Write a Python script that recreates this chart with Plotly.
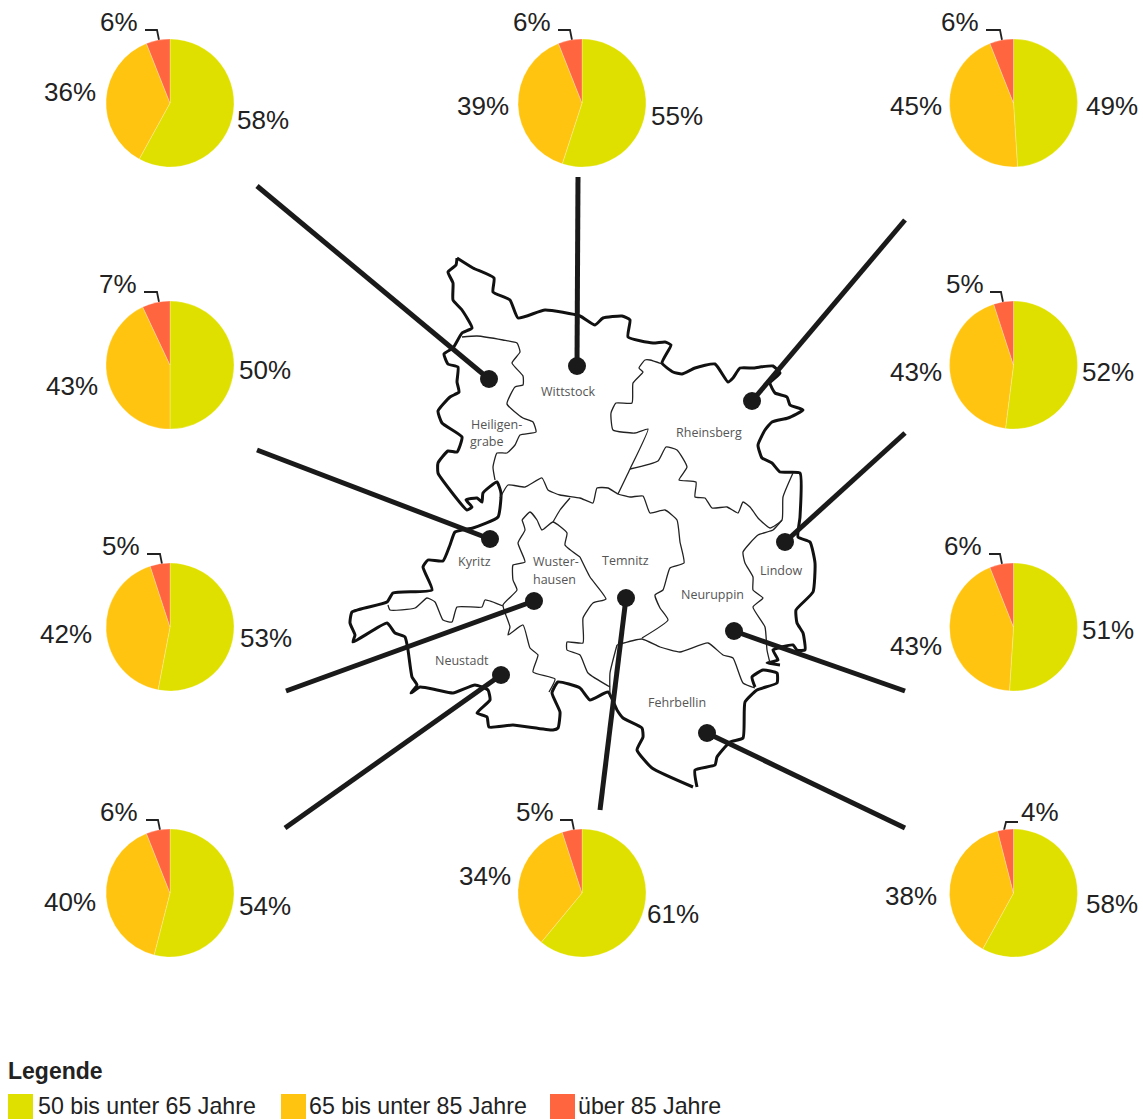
import plotly.graph_objects as go

WIDTH, HEIGHT = 1143, 1119

# Age shares per municipality
districts = ["Heiligengrabe", "Wittstock", "Rheinsberg", "Kyritz", "Lindow",
             "Wusterhausen", "Neuruppin", "Neustadt", "Temnitz", "Fehrbellin"]
share_50_65 = [58, 55, 49, 50, 52, 53, 51, 54, 61, 58]
share_65_85 = [36, 39, 45, 43, 43, 42, 43, 40, 34, 38]
share_85_up = [6, 6, 6, 7, 5, 5, 6, 6, 5, 4]
age_groups = ["50 bis unter 65 Jahre", "65 bis unter 85 Jahre", "über 85 Jahre"]
colors = ["#E0E000", "#FFC40F", "#FF6640"]

# Pie placement
pie_cx = [170, 582, 1013.5, 170, 1013.5, 170, 1013.5, 170, 582, 1013.5]
pie_cy = [103, 103, 103, 365, 365, 627, 627, 893, 893, 893]
PIE_R = 64

# Percent label centres: 50-65, 65-85, over 85
label_a = [(263, 120), (677, 116), (1112, 106), (265, 370), (1108, 372),
           (266, 638), (1108, 630), (265, 906), (673, 914), (1112, 904)]
label_b = [(70, 92), (483, 106), (916, 106), (72, 386), (916, 372),
           (66, 634), (916, 646), (70, 902), (485, 876), (911, 896)]
label_c = [(119, 22), (532, 22), (960, 22), (118, 284), (965, 284),
           (121, 546), (963, 546), (119, 812), (535, 812), (1040, 812)]
# Short leader from the small label to its slice
leaders = [[(145, 30), (157, 30), (159, 40)], [(558, 30), (570, 30), (572, 40)],
           [(986, 30), (1000, 30), (1002, 40)], [(144, 292), (157, 292), (159, 302)],
           [(990, 292), (1001, 292), (1003, 302)], [(147, 554), (160, 554), (162, 564)],
           [(989, 554), (1000, 554), (1002, 564)], [(146, 820), (158, 820), (160, 830)],
           [(560, 820), (572, 820), (574, 830)], [(1018, 822), (1006, 822), (1004, 830)]]

# Connectors: pie side end, then the dot on the map
connectors = [[(257, 186), (489, 379)], [(578, 177), (577, 366)], [(905, 220), (752, 401)],
              [(257, 450), (490, 539)], [(905, 433), (785, 542)], [(286, 691), (534, 601)],
              [(905, 691), (734, 631)], [(285, 828), (501, 675)], [(600, 810), (626, 598)],
              [(905, 828), (707, 733)]]

# County outline
outer_border = [
    (457, 258), (456, 265), (448, 272), (453, 283), (453, 300), (462, 310), (472, 328), (462, 333),
    (453, 348), (444, 354), (448, 364), (458, 367), (457, 382), (459, 392), (450, 397), (438, 411),
    (442, 423), (462, 437), (457, 452), (448, 451), (438, 463), (438, 473), (450, 490), (467, 510),
    (472, 507), (466, 500), (477, 498), (482, 502), (483, 493), (497, 482), (501, 493), (498, 517),
    (473, 528), (455, 532), (450, 545), (443, 561), (428, 560), (423, 567), (432, 590), (393, 593),
    (387, 602), (352, 612), (350, 623), (355, 635), (353, 642), (387, 623), (395, 633), (405, 637),
    (408, 650), (412, 677), (417, 685), (411, 693), (420, 687), (437, 690), (453, 693), (475, 685),
    (488, 690), (490, 700), (477, 713), (487, 717), (489, 727), (513, 725), (553, 730), (558, 728),
    (560, 712), (552, 693), (558, 682), (580, 688), (590, 700), (608, 692), (617, 710), (623, 718),
    (642, 728), (643, 737), (637, 750), (652, 768), (693, 787), None,
    (697, 787), (695, 770), (715, 765), (717, 757), (730, 742), (743, 738), (745, 702), (757, 690),
    (777, 683), (777, 673), (763, 670), (752, 677), (755, 687), None,
    (780, 665), (767, 663), (778, 660), (773, 650), (793, 645), (797, 650), (805, 650), (803, 633),
    (797, 623), (796, 610), (813, 592), (815, 563), (810, 542), (798, 537), (800, 517), (800, 473),
    (780, 472), (772, 463), (762, 458), (758, 445), (765, 430), (772, 422), (788, 418), (803, 410),
    (790, 405), (787, 397), (775, 393), (770, 383), (780, 373), (773, 366), (760, 367), (753, 368),
    (740, 368), (733, 378), (728, 382), (715, 364), (695, 368), (682, 374), (673, 372), (662, 363),
    (671, 345), (665, 342), (653, 343), (628, 337), (630, 320), (622, 316), (603, 318), (595, 325),
    (580, 316), (545, 310), (518, 318), (510, 300), (493, 292), (494, 278), (473, 268), (457, 258),
]

# Municipal borders
inner_borders = [
    (462, 337), (477, 336), (503, 340), (517, 343), (520, 352), (512, 363), (523, 376), (523, 385),
    (515, 387), (507, 404), (523, 418), (533, 422), (536, 432), (520, 435), (515, 445), (507, 453),
    (497, 453), (493, 467), (495, 480), None,
    (662, 364), (650, 360), (645, 360), (639, 368), (643, 372), (633, 383), (632, 403), (616, 403),
    (611, 413), (613, 430), (635, 433), (648, 429), (630, 469), (618, 494), None,
    (630, 469), (658, 461), (666, 447), (677, 450), (687, 467), (679, 480), (696, 482), (695, 497),
    (705, 498), (712, 508), (727, 507), (738, 513), (743, 502), (750, 507), (758, 518), (760, 520),
    (770, 528), (782, 520), (783, 497), (793, 473), None,
    (782, 520), (773, 530), (758, 535), (743, 552), (745, 563), (753, 577), (753, 590), (763, 598),
    (753, 607), (765, 627), (767, 650), (770, 663), None,
    (500, 498), (508, 485), (525, 487), (542, 478), (548, 490), (560, 495), (580, 498), (593, 503),
    (597, 488), (608, 488), (618, 494), (630, 497), (643, 496), (650, 513), (665, 510), (677, 520),
    (680, 542), (684, 563), (670, 568), (663, 590), (655, 595), (660, 608), (668, 620), (642, 638),
    None,
    (617, 645), (642, 639), (660, 647), (680, 652), (708, 643), (723, 655), (733, 658), (743, 683),
    (755, 688), None,
    (617, 645), (610, 673), (610, 697), None,
    (580, 557), (590, 577), (606, 599), (593, 603), (583, 618), (583, 643), (567, 642), (567, 650),
    (580, 655), (588, 673), (610, 687), None,
    (522, 520), (530, 512), (537, 520), (542, 530), (553, 522), (567, 533), (565, 545), (580, 557),
    None,
    (570, 498), (560, 510), (553, 522), None,
    (522, 520), (525, 530), (518, 543), (525, 562), (513, 565), (513, 580), (517, 590), (503, 605),
    (510, 627), (508, 635), (523, 625), (530, 648), (538, 655), (533, 672), (555, 679), (549, 692),
    None,
    (388, 605), (390, 610), (415, 608), (427, 598), (435, 602), (443, 620), (452, 622), (457, 607),
    (482, 607), (485, 600), (503, 606),
]

map_names = [("Wittstock", 568, 391), ("Heiligen-", 496, 424), ("grabe", 487, 441),
             ("Rheinsberg", 709, 432), ("Kyritz", 474, 561), ("Wuster-", 556, 561),
             ("hausen", 554, 579), ("Temnitz", 625, 560), ("Neuruppin", 712, 594),
             ("Lindow", 781, 570), ("Neustadt", 462, 660), ("Fehrbellin", 677, 702)]


def split_xy(points):
    xs = [p[0] if p else None for p in points]
    ys = [p[1] if p else None for p in points]
    return xs, ys


fig = go.Figure()

for pts, width, tone in ((outer_border, 3, "#111111"), (inner_borders, 1.3, "#222222")):
    xs, ys = split_xy(pts)
    fig.add_trace(go.Scatter(x=xs, y=ys, mode="lines", hoverinfo="skip", showlegend=False,
                             line=dict(color=tone, width=width, shape="spline", smoothing=0.45)))

for link in connectors:
    xs, ys = split_xy(link)
    fig.add_trace(go.Scatter(x=xs, y=ys, mode="lines", hoverinfo="skip", showlegend=False,
                             line=dict(color="#1a1a1a", width=5)))
    fig.add_trace(go.Scatter(x=[xs[1]], y=[ys[1]], mode="markers", hoverinfo="skip", showlegend=False,
                             marker=dict(color="#1a1a1a", size=18)))

for pts in leaders:
    xs, ys = split_xy(pts)
    fig.add_trace(go.Scatter(x=xs, y=ys, mode="lines", hoverinfo="skip", showlegend=False,
                             line=dict(color="#222222", width=1.8)))

for i, name in enumerate(districts):
    fig.add_trace(go.Pie(
        name=name,
        labels=age_groups,
        values=[share_50_65[i], share_65_85[i], share_85_up[i]],
        sort=False, direction="clockwise", rotation=0,
        marker=dict(colors=colors, line=dict(color="rgba(255,255,255,0.5)", width=0.5)),
        textinfo="none", showlegend=False,
        domain=dict(x=[(pie_cx[i] - PIE_R) / WIDTH, (pie_cx[i] + PIE_R) / WIDTH],
                    y=[1 - (pie_cy[i] + PIE_R) / HEIGHT, 1 - (pie_cy[i] - PIE_R) / HEIGHT]),
    ))

annotations = []


def add_text(text, x, y, size, color, family="Liberation Sans", anchor="center"):
    annotations.append(dict(text=text, x=x, y=y, xref="x", yref="y", showarrow=False,
                            xanchor=anchor, yanchor="middle",
                            font=dict(family=family, size=size, color=color)))


for i in range(len(districts)):
    add_text(f"{share_50_65[i]}%", *label_a[i], 26, "#222222")
    add_text(f"{share_65_85[i]}%", *label_b[i], 26, "#222222")
    add_text(f"{share_85_up[i]}%", *label_c[i], 26, "#222222")

for name, x, y in map_names:
    add_text(name, x, y, 12.5, "#555555", family="Open Sans")

add_text("<b>Legende</b>", 6, 1071, 23, "#222222", anchor="left")
swatch_left = [8, 281, 550]
legend_text_left = [36, 307, 576]
shapes = []
for i, group in enumerate(age_groups):
    add_text(group, legend_text_left[i], 1106, 23.2, "#222222", anchor="left")
    shapes.append(dict(type="rect", xref="x", yref="y", x0=swatch_left[i], x1=swatch_left[i] + 25,
                       y0=1094, y1=1119, fillcolor=colors[i], line=dict(width=0)))

fig.update_layout(
    width=WIDTH, height=HEIGHT,
    margin=dict(l=0, r=0, t=0, b=0),
    paper_bgcolor="white", plot_bgcolor="white",
    xaxis=dict(range=[0, WIDTH], visible=False, fixedrange=True),
    yaxis=dict(range=[HEIGHT, 0], visible=False, fixedrange=True),
    annotations=annotations, shapes=shapes,
)

fig.write_html("out.html")
